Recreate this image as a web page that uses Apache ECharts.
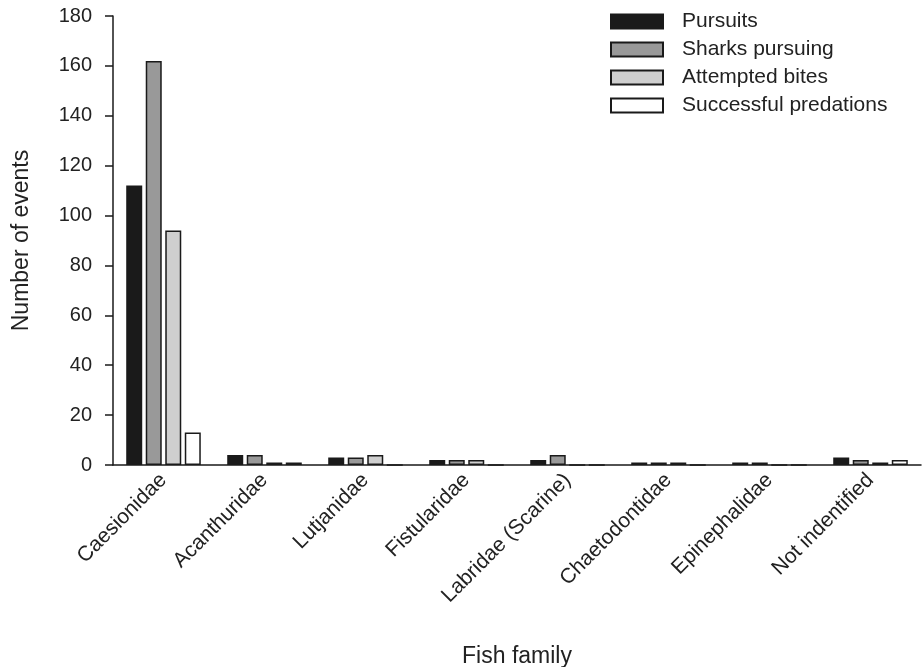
<!DOCTYPE html>
<html>
<head>
<meta charset="utf-8">
<script src="https://cdn.jsdelivr.net/npm/echarts@6/dist/echarts.min.js"></script>
<style>html,body{margin:0;padding:0;background:#fff}#c{width:923px;height:667px}</style>
</head>
<body>
<div id="c"></div>
<script>
const categories = ['Caesionidae','Acanthuridae','Lutjanidae','Fistularidae','Labridae (Scarine)','Chaetodontidae','Epinephalidae','Not indentified'];
const pursuits = [112, 4, 3, 2, 2, 1, 1, 3];
const sharksPursuing = [162, 4, 3, 2, 4, 1, 1, 2];
const attemptedBites = [94, 1, 4, 2, 0, 1, 0, 1];
const successfulPredations = [13, 1, 0, 0, 0, 0, 0, 2];
const yTicks = [0, 20, 40, 60, 80, 100, 120, 140, 160, 180];

const font = 'Liberation Sans, Arial, sans-serif';
const txt = '#222';
function mk(name, data, color) {
  return {
    name: name, type: 'bar', data: data, barWidth: 16, barGap: '22%',
    itemStyle: { color: color, borderColor: '#1a1a1a', borderWidth: 1.5 }
  };
}
const chart = echarts.init(document.getElementById('c'));
chart.setOption({
  animation: false,
  backgroundColor: '#fff',
  grid: { left: 113, right: 2, top: 16, bottom: 202, containLabel: false, outerBoundsMode: 'none' },
  legend: {
    orient: 'vertical', left: 605, top: 6, itemWidth: 52, itemHeight: 14, itemGap: 7,
    icon: 'rect',
    textStyle: { fontFamily: font, fontSize: 21, color: txt, padding: [0, 0, 0, 14] },
    data: ['Pursuits', 'Sharks pursuing', 'Attempted bites', 'Successful predations']
  },
  xAxis: {
    type: 'category', data: categories,
    name: 'Fish family', nameLocation: 'middle', nameGap: 180,
    nameTextStyle: { fontFamily: font, fontSize: 23, color: txt },
    axisLine: { lineStyle: { color: '#1a1a1a', width: 1.5 } },
    axisTick: { alignWithLabel: true, length: 8, lineStyle: { color: '#1a1a1a', width: 1.5 } },
    axisLabel: { rotate: 45, fontFamily: font, fontSize: 21, color: txt, margin: 12, interval: 0 }
  },
  yAxis: {
    type: 'value', min: 0, max: 180, interval: 20,
    name: 'Number of events', nameLocation: 'middle', nameGap: 80,
    nameTextStyle: { fontFamily: font, fontSize: 23, color: txt },
    axisLine: { show: true, lineStyle: { color: '#1a1a1a', width: 1.5 } },
    axisTick: { show: true, length: 8, lineStyle: { color: '#1a1a1a', width: 1.5 } },
    splitLine: { show: false },
    axisLabel: { fontFamily: font, fontSize: 20, color: txt, margin: 21,
      formatter: v => yTicks.includes(v) ? String(v) : '' }
  },
  series: [
    mk('Pursuits', pursuits, '#1a1a1a'),
    mk('Sharks pursuing', sharksPursuing, '#999999'),
    mk('Attempted bites', attemptedBites, '#cfcfcf'),
    mk('Successful predations', successfulPredations, '#ffffff')
  ]
});
</script>
</body>
</html>
